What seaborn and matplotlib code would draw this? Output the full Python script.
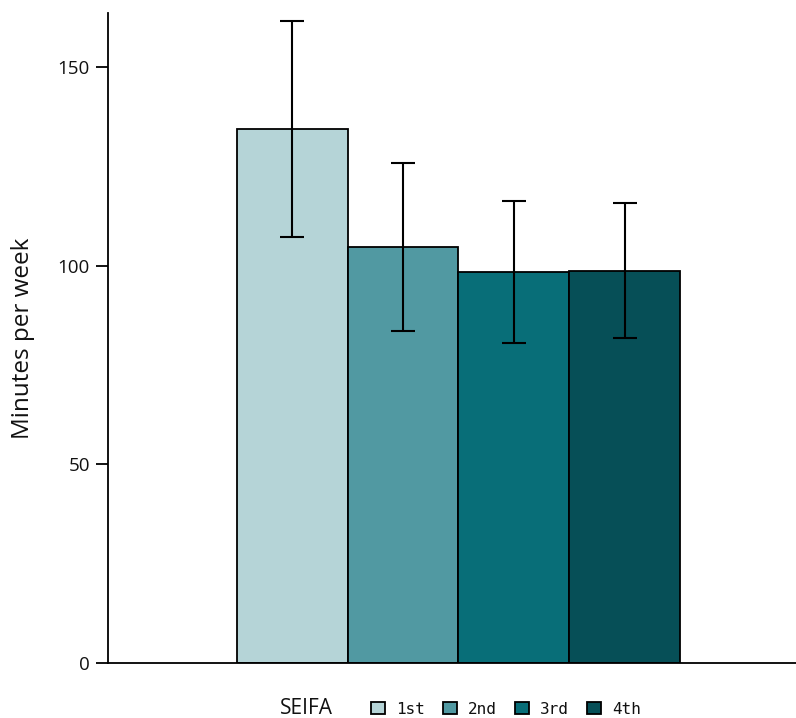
import matplotlib
matplotlib.use("Agg")
import matplotlib.pyplot as plt
import seaborn as sns
import pandas as pd
from matplotlib.patches import Patch

# SEIFA quartiles, mean minutes per week and error half-widths
quartiles = ["1st", "2nd", "3rd", "4th"]
minutes = [134.4, 104.7, 98.4, 98.7]
err = [27.2, 21.2, 17.9, 17.0]
colors = ["#b5d4d7", "#5199a2", "#086e78", "#064f57"]

df = pd.DataFrame({"group": ["SEIFA"] * 4, "quartile": quartiles, "minutes": minutes})

sns.set_theme(style="white")
plt.rcParams["font.family"] = ["Open Sans", "DejaVu Sans"]
plt.rcParams["text.color"] = "#111111"
plt.rcParams["axes.labelcolor"] = "#111111"

fig = plt.figure(figsize=(7.96, 7.18), dpi=100)
W, H = 796, 718
ax = fig.add_axes([108 / W, 1 - 663 / H, 1 - 108 / W, (663 - 13) / H])

sns.barplot(data=df, x="group", y="minutes", hue="quartile", hue_order=quartiles,
            palette=colors, saturation=1, width=0.632, errorbar=None,
            edgecolor="black", linewidth=1.3, legend=False, ax=ax)

bars = [p for p in ax.patches if p.get_height() > 0][:4]
xs = [b.get_x() + b.get_width() / 2 for b in bars]
ax.errorbar(xs, minutes, yerr=err, fmt="none", ecolor="black", elinewidth=1.5,
            capsize=8.5, capthick=1.5, zorder=5)

ax.set_xlim(-0.5, 0.4815)
ax.set_ylim(0, 163.6)
ax.set_yticks([0, 50, 100, 150])
ax.tick_params(axis="y", left=True, length=9, width=1.3, color="black",
               labelsize=13.5, pad=4, labelcolor="#111111")
ax.tick_params(axis="x", bottom=False, labelbottom=False)
ax.set_xlabel("")
ax.set_ylabel("Minutes per week", fontsize=17.5, labelpad=16)
for s in ["top", "right"]:
    ax.spines[s].set_visible(False)
for s in ["left", "bottom"]:
    ax.spines[s].set_color("black")
    ax.spines[s].set_linewidth(1.3)

handles = [Patch(facecolor=c, edgecolor="black", linewidth=1.3) for c in colors]
fig.text(280 / W, 1 - 708 / H, "SEIFA", fontsize=15, va="center", ha="left")
fig.legend(handles, quartiles, loc="center left", bbox_to_anchor=(371 / W, 1 - 709 / H),
           ncol=4, frameon=False, prop={"family": "DejaVu Sans Mono", "size": 11.5},
           handlelength=0.85, handleheight=0.85, handletextpad=0.7,
           columnspacing=1.15, borderaxespad=0, borderpad=0)

fig.savefig("out.png", dpi=100)
